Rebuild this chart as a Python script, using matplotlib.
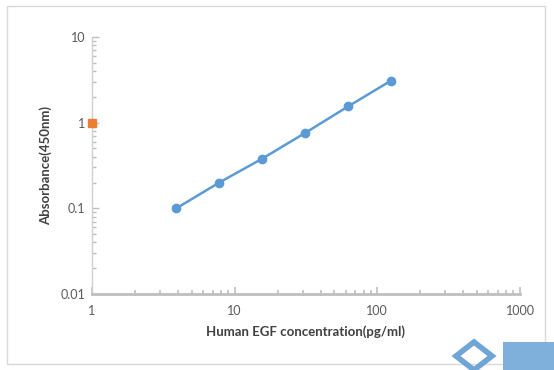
import matplotlib
matplotlib.use("Agg")
import matplotlib.pyplot as plt
from matplotlib.patches import Rectangle, Polygon
from matplotlib.ticker import LogLocator, FixedLocator, FixedFormatter, NullFormatter

# standard curve data
conc = [3.9, 7.8, 15.6, 31.25, 62.5, 125]
absorb = [0.1, 0.2, 0.38, 0.76, 1.55, 3.1]
blank_x = [1]
blank_y = [1]

x_ticks = [1, 10, 100, 1000]
x_labels = ["1", "10", "100", "1000"]
y_ticks = [0.01, 0.1, 1, 10]
y_labels = ["0.01", "0.1", "1", "10"]

plt.rcParams['font.family'] = ['Lato', 'DejaVu Sans']

fig = plt.figure(figsize=(5.54, 3.70), dpi=100)
ax = fig.add_axes([92 / 554, 1 - 294 / 370, 428 / 554, 257 / 370])

blue = "#5b9bd5"
orange = "#ed7d31"
gray = "#bfbfbf"

ax.plot(conc, absorb, color=blue, lw=1.8, marker="o", ms=6, zorder=3)
ax.plot(blank_x, blank_y, ls="none", marker="s", ms=6, color=orange,
        clip_on=False, zorder=4)

ax.set_xscale("log")
ax.set_yscale("log")
ax.set_xlim(1, 1000)
ax.set_ylim(0.01, 10)

ax.xaxis.set_major_locator(FixedLocator(x_ticks))
ax.xaxis.set_major_formatter(FixedFormatter(x_labels))
ax.yaxis.set_major_locator(FixedLocator(y_ticks))
ax.yaxis.set_major_formatter(FixedFormatter(y_labels))
ax.xaxis.set_minor_locator(LogLocator(base=10, subs=range(2, 10)))
ax.yaxis.set_minor_locator(LogLocator(base=10, subs=range(2, 10)))
ax.xaxis.set_minor_formatter(NullFormatter())
ax.yaxis.set_minor_formatter(NullFormatter())

for s in ["top", "right"]:
    ax.spines[s].set_visible(False)
ax.spines["left"].set_color("#d0d0d0")
ax.spines["left"].set_linewidth(1.0)
ax.spines["bottom"].set_color(gray)
ax.spines["bottom"].set_linewidth(2.0)

ax.tick_params(axis="both", which="both", direction="in", colors="#bfbfbf",
               labelcolor="#595959", labelsize=9)
ax.tick_params(axis="x", which="major", length=5, width=1.2, pad=8)
ax.tick_params(axis="x", which="minor", length=3, width=1.2)
ax.tick_params(axis="y", which="major", length=5, width=1, pad=5)
ax.tick_params(axis="y", which="minor", length=3, width=1)

ax.set_xlabel("Human EGF concentration(pg/ml)", fontsize=9.5, fontweight="bold",
              color="#404040", labelpad=6)
ax.set_ylabel("Absorbance(450nm)", fontsize=9.5, fontweight="bold",
              color="#404040", labelpad=6)

# outer chart frame
fig.patches.append(Rectangle((7 / 554, 1 - 364 / 370), 538 / 554, 358 / 370,
                             transform=fig.transFigure, fill=False,
                             ec="#d9d9d9", lw=1))

# watermark logo at bottom right
fig.patches.append(Rectangle((503 / 554, 0), 51 / 554, 28 / 370,
                             transform=fig.transFigure, fc="#7fb0dc", ec="none"))
fig.patches.append(Polygon([(474 / 554, 1 - 342 / 370), (492 / 554, 1 - 356 / 370),
                            (474 / 554, 1 - 370 / 370), (456 / 554, 1 - 356 / 370)],
                           closed=True, transform=fig.transFigure, fill=False,
                           ec="#6fa4d6", lw=4))

fig.savefig("out.png", dpi=100)
